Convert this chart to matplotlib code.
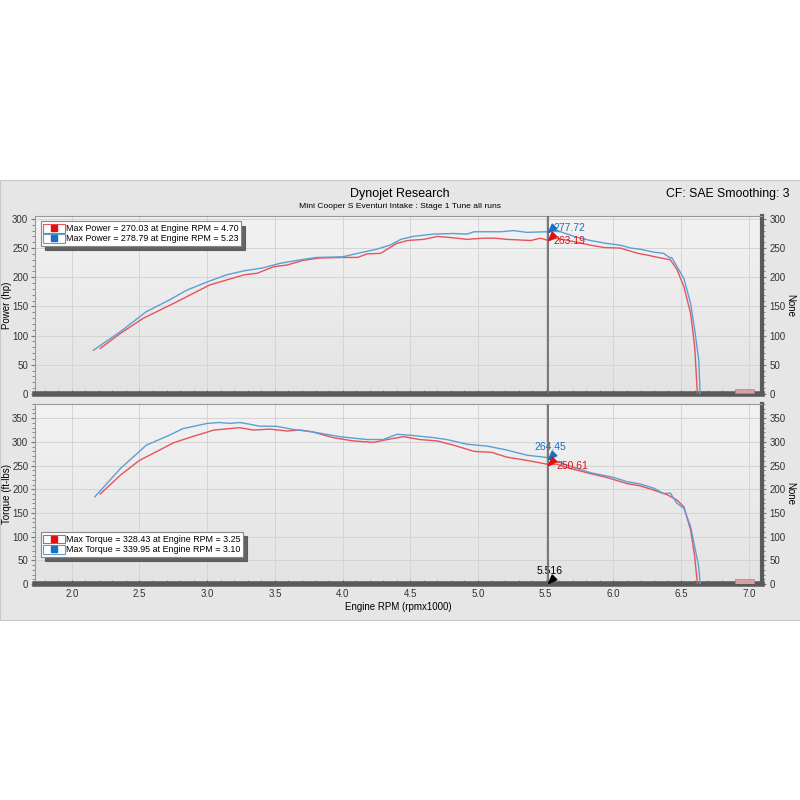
import numpy as np
import matplotlib
matplotlib.use("Agg")
import matplotlib.pyplot as plt
from matplotlib.patches import Rectangle
from matplotlib.lines import Line2D
from matplotlib.legend_handler import HandlerTuple
from matplotlib.ticker import MultipleLocator

plt.rcParams["font.family"] = ["Liberation Sans", "DejaVu Sans"]

# --- data (rpm x1000) ---
rpm_pw_blue = [2.16, 2.36, 2.55, 2.72, 2.85, 3.00, 3.14, 3.27, 3.41, 3.54, 3.69, 3.81, 4.00, 4.11,
               4.25, 4.35, 4.43, 4.52, 4.67, 4.82, 4.92, 4.97, 5.17, 5.26, 5.36, 5.51, 5.54, 5.61,
               5.71, 5.83, 5.95, 6.05, 6.13, 6.20, 6.30, 6.37, 6.42, 6.43, 6.47, 6.52, 6.57, 6.60,
               6.63, 6.64]
hp_blue = [75, 107, 141, 161, 178, 192, 204, 211, 216, 224, 230, 234, 235, 241,
           248, 255, 265, 270, 274, 275, 274, 278, 278, 280, 277, 278, 279, 278,
           270, 263, 258, 255, 250, 248, 243, 241, 233, 234, 218, 198, 155, 110,
           58, 0]
rpm_pw_red = [2.21, 2.36, 2.53, 2.75, 3.02, 3.27, 3.37, 3.49, 3.59, 3.71, 3.83, 4.00, 4.11,
              4.18, 4.28, 4.40, 4.48, 4.60, 4.70, 4.80, 4.92, 5.04, 5.12, 5.21, 5.39, 5.46,
              5.52, 5.58, 5.71, 5.83, 5.93, 6.05, 6.18, 6.25, 6.35, 6.42, 6.47, 6.52, 6.57,
              6.60, 6.62]
hp_red = [78, 104, 130, 155, 187, 204, 207, 218, 221, 229, 233, 234, 234,
          240, 241, 258, 263, 265, 270, 268, 265, 267, 267, 265, 263, 267,
          263, 267, 261, 255, 251, 250, 241, 238, 233, 230, 213, 184, 138,
          81, 0]

rpm_tq_blue = [2.17, 2.36, 2.55, 2.72, 2.82, 3.00, 3.09, 3.17, 3.24, 3.32, 3.39, 3.51, 3.64,
               3.78, 3.98, 4.18, 4.30, 4.40, 4.50, 4.67, 4.77, 4.92, 5.07, 5.21, 5.36, 5.51,
               5.52, 5.66, 5.83, 6.00, 6.10, 6.20, 6.30, 6.37, 6.42, 6.47, 6.52, 6.57, 6.60,
               6.63, 6.64]
tq_blue = [184, 244, 293, 314, 328, 339, 341, 339, 341, 337, 333, 333, 326,
           321, 311, 305, 305, 316, 314, 309, 305, 295, 291, 283, 272, 267,
           265, 251, 235, 225, 216, 211, 202, 191, 192, 170, 160, 121, 79,
           36, 0]
rpm_tq_red = [2.21, 2.36, 2.50, 2.65, 2.75, 2.90, 3.05, 3.24, 3.34, 3.46, 3.59, 3.69, 3.78,
              3.93, 4.08, 4.23, 4.33, 4.45, 4.57, 4.70, 4.82, 4.97, 5.10, 5.21, 5.36, 5.51,
              5.52, 5.58, 5.68, 5.83, 5.95, 6.10, 6.20, 6.30, 6.40, 6.47, 6.52, 6.57, 6.60,
              6.62]
tq_red = [190, 230, 261, 283, 298, 312, 325, 330, 325, 327, 323, 325, 321,
          309, 302, 299, 305, 311, 305, 302, 293, 280, 278, 268, 261, 253,
          251, 253, 244, 233, 225, 212, 207, 198, 188, 177, 163, 114, 58,
          0]

cursor_rpm = 5.516
power_legend = ["Max Power = 270.03 at Engine RPM = 4.70", "Max Power = 278.79 at Engine RPM = 5.23"]
torque_legend = ["Max Torque = 328.43 at Engine RPM = 3.25", "Max Torque = 339.95 at Engine RPM = 3.10"]

BLUE = "#5b9fd6"
RED = "#e8525c"
BLUE_MK = "#1a6fc4"
RED_MK = "#e01010"

fig = plt.figure(figsize=(8, 8), dpi=100)
fig.patch.set_facecolor("white")
fig.add_artist(Rectangle((0, 0.225), 1, 0.55, transform=fig.transFigure,
                         facecolor="#e6e6e6", edgecolor="#c8c8c8", lw=0.8, zorder=0))

fig.text(0.5, 0.758, "Dynojet Research", ha="center", va="center", fontsize=9)
fig.text(0.5, 0.742, "Mini Cooper S Eventuri Intake : Stage 1 Tune all runs", ha="center",
         va="center", fontsize=6.1)
fig.text(0.987, 0.758, "CF: SAE Smoothing: 3", ha="right", va="center", fontsize=8.8)

ax1 = fig.add_axes([0.044, 0.5075, 0.909, 0.2225])
ax2 = fig.add_axes([0.044, 0.27, 0.909, 0.225])

grad = np.linspace(1, 0, 100).reshape(-1, 1)
cmap = matplotlib.colors.LinearSegmentedColormap.from_list("g", ["#e3e3e3", "#f2f2f2"])


def style(ax, ymax, ystep, ylabel):
    ax.imshow(grad, extent=[0, 1, 0, 1], transform=ax.transAxes, aspect="auto",
              cmap=cmap, zorder=0)
    ax.set_xlim(1.73, 7.1)
    ax.set_ylim(0, ymax)
    ax.xaxis.set_major_locator(MultipleLocator(0.5))
    ax.xaxis.set_minor_locator(MultipleLocator(0.1))
    ax.yaxis.set_major_locator(MultipleLocator(ystep))
    ax.yaxis.set_minor_locator(MultipleLocator(10))
    ax.grid(True, which="major", color="#d4d4d4", lw=0.7)
    ax.set_axisbelow(True)
    for s in ["top", "left"]:
        ax.spines[s].set_color("#999999")
        ax.spines[s].set_linewidth(0.8)
    ax.spines["bottom"].set_color("#5a5a5a")
    ax.spines["bottom"].set_linewidth(4)
    ax.spines["right"].set_color("#5a5a5a")
    ax.spines["right"].set_linewidth(3)
    ax.tick_params(axis="y", which="both", labelsize=7, color="#777777", length=3, pad=2,
                   labelcolor="#333333", left=True, right=True, labelright=True)
    ax.tick_params(axis="y", which="minor", length=2)
    ax.tick_params(axis="x", which="both", direction="in", color="#777777", labelsize=7,
                   labelcolor="#333333", length=3)
    ax.axvline(cursor_rpm, color="#6e6e6e", lw=1.3, zorder=4)
    # axis titles placed in figure space so they sit at the sheet edges
    bb = ax.get_position()
    ymid = (bb.y0 + bb.y1) / 2
    fig.text(0.009, ymid, ylabel, rotation=90, ha="center", va="center", fontsize=7)
    fig.text(0.988, ymid, "None", rotation=270, ha="center", va="center", fontsize=7)


style(ax1, 305, 50, "Power (hp)")
style(ax2, 380, 50, "Torque (ft-lbs)")
ax1.tick_params(axis="x", labelbottom=False)
ax2.set_xlabel("Engine RPM (rpmx1000)", fontsize=7, labelpad=2)

ax1.plot(rpm_pw_red, hp_red, color=RED, lw=1.0, zorder=3)
ax1.plot(rpm_pw_blue, hp_blue, color=BLUE, lw=1.0, zorder=3)
ax2.plot(rpm_tq_red, tq_red, color=RED, lw=1.0, zorder=3)
ax2.plot(rpm_tq_blue, tq_blue, color=BLUE, lw=1.0, zorder=3)

# cursor markers: arrowhead with its tip on the point
mk = [(0, 0), (1.0, 0.45), (0.45, 1.0), (0, 0)]
ax1.plot(cursor_rpm, 277.72, marker=mk, color=BLUE_MK, ms=12, zorder=5)
ax1.plot(cursor_rpm, 263.19, marker=mk, color=RED_MK, ms=12, zorder=5)
ax1.text(cursor_rpm + 0.04, 284, "277.72", color=BLUE_MK, fontsize=7.5, va="center")
ax1.text(cursor_rpm + 0.04, 262, "263.19", color=RED_MK, fontsize=7.5, va="center")
ax2.plot(cursor_rpm, 264.45, marker=mk, color=BLUE_MK, ms=12, zorder=5)
ax2.plot(cursor_rpm, 250.61, marker=mk, color=RED_MK, ms=12, zorder=5)
ax2.text(cursor_rpm - 0.1, 290, "264.45", color=BLUE_MK, fontsize=7.5, va="center")
ax2.text(cursor_rpm + 0.06, 250, "250.61", color=RED_MK, fontsize=7.5, va="center")
ax2.plot(cursor_rpm, 2, marker=mk, color="black", ms=12, zorder=5)
ax2.text(cursor_rpm - 0.08, 28, "5.516", color="black", fontsize=7.5, va="center")

# faint badge near the right end of each plot
for ax, h in [(ax1, 8), (ax2, 10)]:
    ax.add_patch(Rectangle((6.9, 1), 0.14, h, facecolor="#d8a0a0", edgecolor="#c08080",
                           lw=0.5, zorder=3))


def legend(ax, labels, loc, anchor):
    hr = (Rectangle((0, 0), 1, 1, facecolor="white", edgecolor=RED, lw=0.8),
          Line2D([], [], marker="s", color=RED_MK, ls="", ms=5))
    hb = (Rectangle((0, 0), 1, 1, facecolor="white", edgecolor=BLUE, lw=0.8),
          Line2D([], [], marker="s", color=BLUE_MK, ls="", ms=5))
    lg = ax.legend([hr, hb], labels, loc=loc, bbox_to_anchor=anchor,
                   handler_map={tuple: HandlerTuple(ndivide=1, pad=0)},
                   fontsize=6.4, frameon=True, fancybox=False,
                   shadow={"color": "#555555", "alpha": 0.9, "ox": 3, "oy": -3},
                   handlelength=2.4, handleheight=1.1, handletextpad=0.15, borderpad=0.3,
                   labelspacing=0.1, borderaxespad=0.6)
    lg.get_frame().set_edgecolor("#888888")
    lg.get_frame().set_linewidth(0.8)
    lg.set_zorder(6)


legend(ax1, power_legend, "upper left", (0.0, 1.0))
legend(ax2, torque_legend, "lower left", (0.0, 0.12))

fig.savefig("out.png", dpi=100, facecolor=fig.get_facecolor())
